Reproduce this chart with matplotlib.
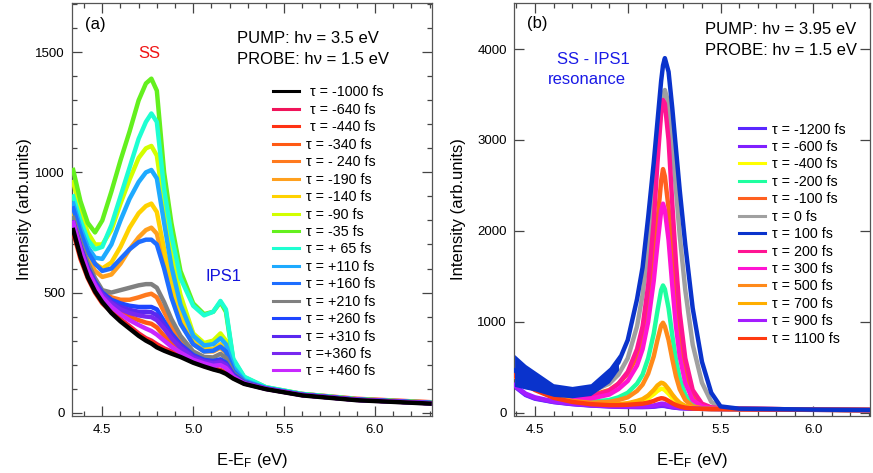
import matplotlib
matplotlib.use("Agg")
import matplotlib.pyplot as plt
from matplotlib.ticker import MultipleLocator, NullLocator

plt.rcParams['font.family'] = ['Liberation Sans', 'DejaVu Sans']
plt.rcParams['mathtext.fontset'] = 'custom'
plt.rcParams['mathtext.rm'] = 'Liberation Sans'
plt.rcParams['mathtext.it'] = 'Liberation Sans:italic'

# ---------------- panel (a): pump 3.5 eV, probe 1.5 eV ----------------
energy_a = [4.34, 4.38, 4.42, 4.46, 4.50, 4.55, 4.60, 4.65, 4.70, 4.74, 4.77, 4.80, 4.84,
            4.88, 4.93, 5.00, 5.06, 5.11, 5.15, 5.18, 5.22, 5.28, 5.40, 5.60, 5.90, 6.30]

int_a_m1000 = [760, 650, 565, 505, 460, 415, 380, 350, 320, 300, 288, 272, 258, 246, 232, 208, 192, 180, 172, 162, 142, 120, 98, 72, 52, 38]
int_a_m640 = [770, 660, 580, 515, 470, 425, 390, 360, 330, 310, 300, 285, 268, 255, 240, 212, 195, 182, 175, 165, 145, 122, 100, 74, 54, 40]
int_a_m440 = [750, 640, 560, 500, 455, 420, 385, 355, 325, 305, 295, 280, 262, 250, 238, 215, 200, 185, 178, 168, 148, 125, 102, 78, 58, 44]
int_a_m340 = [770, 665, 585, 525, 480, 445, 420, 400, 385, 375, 370, 355, 320, 290, 262, 228, 210, 200, 200, 188, 155, 125, 100, 74, 54, 40]
int_a_m240 = [780, 680, 600, 545, 505, 480, 470, 470, 480, 490, 495, 480, 420, 360, 300, 245, 222, 215, 220, 205, 160, 128, 100, 74, 54, 40]
int_a_m190 = [820, 720, 640, 590, 565, 575, 620, 680, 730, 760, 770, 745, 620, 500, 380, 285, 255, 255, 270, 250, 175, 130, 102, 75, 54, 40]
int_a_m140 = [840, 740, 665, 620, 600, 625, 690, 770, 830, 860, 870, 835, 680, 540, 410, 300, 265, 265, 285, 262, 180, 132, 102, 75, 54, 40]
int_a_m90 = [960, 840, 750, 700, 700, 760, 870, 970, 1060, 1100, 1110, 1070, 860, 660, 490, 330, 290, 300, 330, 300, 195, 138, 104, 76, 55, 41]
int_a_m35 = [1010, 880, 790, 750, 800, 920, 1050, 1170, 1300, 1370, 1390, 1340, 1000, 790, 590, 455, 410, 420, 460, 420, 220, 148, 106, 78, 56, 42]
int_a_p65 = [900, 800, 720, 680, 690, 780, 900, 1020, 1140, 1210, 1245, 1210, 930, 740, 560, 445, 405, 420, 465, 430, 225, 150, 106, 78, 56, 42]
int_a_p110 = [870, 770, 690, 645, 640, 700, 800, 890, 960, 1000, 1010, 975, 790, 610, 450, 320, 280, 285, 310, 285, 190, 135, 103, 75, 54, 40]
int_a_p160 = [850, 750, 670, 620, 590, 600, 640, 680, 710, 720, 720, 700, 600, 480, 370, 285, 255, 258, 275, 255, 175, 130, 102, 75, 54, 40]
int_a_p210 = [810, 710, 625, 560, 510, 500, 510, 520, 530, 535, 535, 520, 460, 390, 320, 255, 232, 230, 245, 228, 165, 128, 100, 74, 54, 40]
int_a_p260 = [790, 690, 605, 545, 500, 470, 455, 445, 440, 440, 440, 430, 380, 330, 285, 240, 220, 215, 222, 208, 160, 126, 100, 74, 54, 40]
int_a_p310 = [790, 690, 600, 540, 495, 460, 440, 428, 420, 420, 418, 405, 365, 320, 278, 235, 215, 210, 215, 202, 155, 124, 100, 74, 54, 40]
int_a_p360 = [790, 685, 595, 535, 490, 455, 430, 415, 405, 400, 398, 385, 350, 310, 270, 230, 212, 205, 210, 198, 152, 123, 100, 74, 54, 40]
int_a_p460 = [790, 680, 590, 530, 480, 440, 410, 385, 365, 350, 340, 325, 300, 275, 250, 220, 205, 195, 198, 186, 150, 122, 99, 73, 53, 39]

labels_a = [" τ = -1000 fs", " τ = -640 fs", " τ = -440 fs", "τ = -340 fs", "τ = - 240 fs",
            "τ = -190 fs", "τ = -140 fs", "τ = -90 fs", "τ = -35 fs", "τ = + 65 fs",
            "τ = +110 fs", "τ = +160 fs", "τ = +210 fs", "τ = +260 fs", "τ = +310 fs",
            "τ =+360 fs", "τ = +460 fs"]
colors_a = ['#000000', '#f0145a', '#ff3214', '#ff5a14', '#ff7a1e', '#ffa01e', '#ffd200',
            '#d2ff00', '#64f01e', '#1effd2', '#1eaaff', '#1e6eff', '#808080', '#1e46ff',
            '#5a28f0', '#7828f0', '#c828ff']
series_a = [int_a_m1000, int_a_m640, int_a_m440, int_a_m340, int_a_m240, int_a_m190,
            int_a_m140, int_a_m90, int_a_m35, int_a_p65, int_a_p110, int_a_p160,
            int_a_p210, int_a_p260, int_a_p310, int_a_p360, int_a_p460]

# ---------------- panel (b): pump 3.95 eV, probe 1.5 eV ----------------
energy_b = [4.39, 4.45, 4.50, 4.60, 4.70, 4.80, 4.90, 4.95, 5.00, 5.05, 5.08, 5.11, 5.14, 5.16,
            5.18, 5.19, 5.20, 5.22, 5.24, 5.26, 5.28, 5.31, 5.35, 5.40, 5.45, 5.50, 5.60,
            5.80, 6.00, 6.30]

int_b_m1200 = [290, 195, 155, 118, 95, 80, 70, 66, 64, 63, 63, 64, 67, 72, 76, 76, 74, 66, 60, 55, 51, 49, 46, 43, 41, 40, 38, 35, 32, 30]
int_b_m600 = [300, 200, 160, 120, 98, 82, 72, 68, 66, 65, 65, 66, 70, 76, 82, 82, 78, 70, 62, 56, 52, 50, 47, 44, 42, 41, 39, 36, 33, 30]
int_b_m400 = [440, 340, 270, 180, 130, 100, 90, 92, 98, 115, 130, 160, 205, 240, 265, 262, 250, 210, 165, 125, 95, 68, 52, 44, 42, 42, 40, 37, 33, 30]
int_b_m200 = [420, 330, 270, 190, 140, 120, 140, 170, 220, 320, 420, 600, 870, 1120, 1350, 1400, 1360, 1150, 850, 580, 380, 200, 90, 55, 45, 45, 42, 38, 34, 30]
int_b_m100 = [430, 350, 300, 230, 190, 190, 250, 320, 430, 620, 820, 1150, 1650, 2100, 2550, 2680, 2600, 2250, 1700, 1200, 800, 430, 180, 80, 55, 50, 45, 40, 35, 30]
int_b_0 = [420, 350, 310, 250, 220, 230, 320, 420, 600, 950, 1300, 1800, 2400, 2900, 3350, 3500, 3550, 3400, 2950, 2450, 1950, 1350, 750, 330, 120, 55, 45, 40, 35, 30]
int_b_100 = [465, 395, 350, 250, 230, 255, 415, 555, 800, 1250, 1600, 2150, 2750, 3200, 3650, 3820, 3900, 3750, 3350, 2900, 2450, 1850, 1150, 560, 220, 70, 45, 40, 35, 30]
int_b_200 = [420, 340, 290, 220, 180, 180, 240, 320, 450, 700, 950, 1400, 2100, 2750, 3300, 3440, 3400, 3000, 2300, 1650, 1100, 600, 250, 100, 60, 50, 45, 40, 35, 30]
int_b_300 = [400, 320, 270, 200, 160, 155, 200, 260, 350, 520, 700, 1000, 1450, 1850, 2220, 2300, 2230, 1900, 1400, 950, 620, 330, 140, 70, 50, 48, 44, 40, 35, 30]
int_b_500 = [400, 320, 260, 180, 130, 110, 120, 140, 170, 240, 310, 430, 620, 800, 960, 990, 950, 800, 590, 400, 260, 140, 70, 50, 45, 44, 42, 38, 34, 30]
int_b_700 = [420, 330, 260, 170, 120, 95, 90, 95, 105, 130, 150, 190, 250, 300, 330, 325, 310, 260, 200, 150, 110, 75, 55, 45, 42, 42, 40, 37, 33, 30]
int_b_900 = [300, 210, 170, 125, 100, 85, 75, 72, 70, 70, 70, 72, 80, 90, 100, 100, 96, 82, 70, 62, 56, 52, 48, 45, 43, 42, 40, 37, 33, 30]
int_b_1100 = [410, 310, 250, 165, 120, 95, 85, 85, 88, 95, 100, 112, 130, 148, 160, 158, 152, 130, 105, 85, 70, 55, 47, 43, 41, 41, 39, 36, 33, 30]

# noise envelope of the 100 fs trace in its low-count region (first 8 energies)
int_b_100_hi = [640, 530, 460, 320, 290, 320, 500, 640]
int_b_100_lo = [290, 260, 240, 180, 165, 190, 330, 470]

labels_b = ["τ = -1200 fs", "τ = -600 fs", "τ = -400 fs", "τ = -200 fs", "τ = -100 fs",
            "τ = 0 fs", "τ = 100 fs", "τ = 200 fs", "τ = 300 fs", "τ = 500 fs",
            "τ = 700 fs", "τ = 900 fs", "τ = 1100 fs"]
colors_b = ['#5a28ff', '#8020ff', '#ffff00', '#1effa0', '#ff6020', '#a0a0a0', '#0a33cc',
            '#ff1493', '#ff14d2', '#ff8a1a', '#ffae00', '#a41cff', '#ff3a10']
series_b = [int_b_m1200, int_b_m600, int_b_m400, int_b_m200, int_b_m100, int_b_0, int_b_100,
            int_b_200, int_b_300, int_b_500, int_b_700, int_b_900, int_b_1100]

W, H = 873, 473
fig = plt.figure(figsize=(W / 100, H / 100), dpi=100)
axa = fig.add_axes([72 / W, 1 - 415.5 / H, 360 / W, 412.8 / H])
axb = fig.add_axes([514 / W, 1 - 415.5 / H, 356 / W, 412.8 / H])

LW = 3.2

# panel (a) traces; the -1000 fs reference goes on top
handles_a = []
for i, (y, c, lab) in enumerate(zip(series_a, colors_a, labels_a)):
    z = 30 if i == 0 else 2 + i
    ln, = axa.plot(energy_a, y, color=c, lw=LW, solid_joinstyle='round', zorder=z, label=lab)
    handles_a.append(ln)

# panel (b) traces; the 100 fs trace goes on top
handles_b = []
for i, (y, c, lab) in enumerate(zip(series_b, colors_b, labels_b)):
    z = 30 if lab == "τ = 100 fs" else 2 + i
    ln, = axb.plot(energy_b, y, color=c, lw=LW, solid_joinstyle='round', zorder=z, label=lab)
    handles_b.append(ln)
n_env = len(int_b_100_hi)
axb.fill_between(energy_b[:n_env], int_b_100_lo, int_b_100_hi, color=colors_b[6], lw=0, zorder=30)

axa.set_xlim(4.3334, 6.3135)
axa.set_ylim(-11.6, 1706)
axb.set_xlim(4.387, 6.3055)
axb.set_ylim(-30, 4510)

axa.xaxis.set_major_locator(MultipleLocator(0.5))
axa.xaxis.set_minor_locator(MultipleLocator(0.1))
axa.yaxis.set_major_locator(MultipleLocator(500))
axa.yaxis.set_minor_locator(MultipleLocator(100))
axb.xaxis.set_major_locator(MultipleLocator(0.5))
axb.xaxis.set_minor_locator(MultipleLocator(0.1))
axb.yaxis.set_major_locator(MultipleLocator(1000))
axb.yaxis.set_minor_locator(NullLocator())

for ax in (axa, axb):
    ax.tick_params(which='both', direction='in', top=True, right=True, color='#444444',
                   labelcolor='black', labelsize=9.5, width=0.9)
    ax.tick_params(which='major', length=7, pad=5)
    ax.tick_params(which='minor', length=3.5)
    ax.tick_params(axis='x', which='major', pad=6)
    for s in ax.spines.values():
        s.set_color('#555555')
        s.set_linewidth(0.9)
    ax.set_xlabel("E-E$_\\mathrm{F}$ (eV)", fontsize=12)
    ax.set_ylabel("Intensity (arb.units)", fontsize=12)
    ax.xaxis.set_label_coords(0.5, -0.085)
axa.yaxis.set_label_coords(-0.11, 0.5)
axb.yaxis.set_label_coords(-0.135, 0.5)

# annotations
axa.text(0.036, 0.946, "(a)", transform=axa.transAxes, fontsize=12, va='center', ha='left')
axa.text(0.4575, 0.9138, "PUMP: hν = 3.5 eV", transform=axa.transAxes, fontsize=12, va='center', ha='left')
axa.text(0.4575, 0.8629, "PROBE: hν = 1.5 eV", transform=axa.transAxes, fontsize=12, va='center', ha='left')
axa.text(0.2147, 0.8774, "SS", transform=axa.transAxes, fontsize=12, color='#f01414', va='center', ha='center')
axa.text(0.4214, 0.3362, "IPS1", transform=axa.transAxes, fontsize=12, color='#1414dc', va='center', ha='center')

axb.text(0.0365, 0.950, "(b)", transform=axb.transAxes, fontsize=12, va='center', ha='left')
axb.text(0.5365, 0.9356, "PUMP: hν = 3.95 eV", transform=axb.transAxes, fontsize=12, va='center', ha='left')
axb.text(0.5365, 0.8854, "PROBE: hν = 1.5 eV", transform=axb.transAxes, fontsize=12, va='center', ha='left')
axb.text(0.2233, 0.8612, "SS - IPS1", transform=axb.transAxes, fontsize=12, color='#1a1ae6', va='center', ha='center')
axb.text(0.205, 0.8144, "resonance", transform=axb.transAxes, fontsize=12, color='#1a1ae6', va='center', ha='center')

leg_kw = dict(loc='upper left', frameon=False, fontsize=10.3, handlelength=1.8,
              handletextpad=0.5, labelspacing=0.24, borderpad=0, borderaxespad=0)
leg_a = axa.legend(handles=handles_a, labels=labels_a, bbox_to_anchor=(273 / W, 1 - 85.5 / H),
                   bbox_transform=fig.transFigure, **leg_kw)
leg_b = axb.legend(handles=handles_b, labels=labels_b, bbox_to_anchor=(739 / W, 1 - 122.5 / H),
                   bbox_transform=fig.transFigure, **leg_kw)
for leg in (leg_a, leg_b):
    for h in leg.get_lines():
        h.set_linewidth(2.2)

fig.savefig("out.png", dpi=100)
